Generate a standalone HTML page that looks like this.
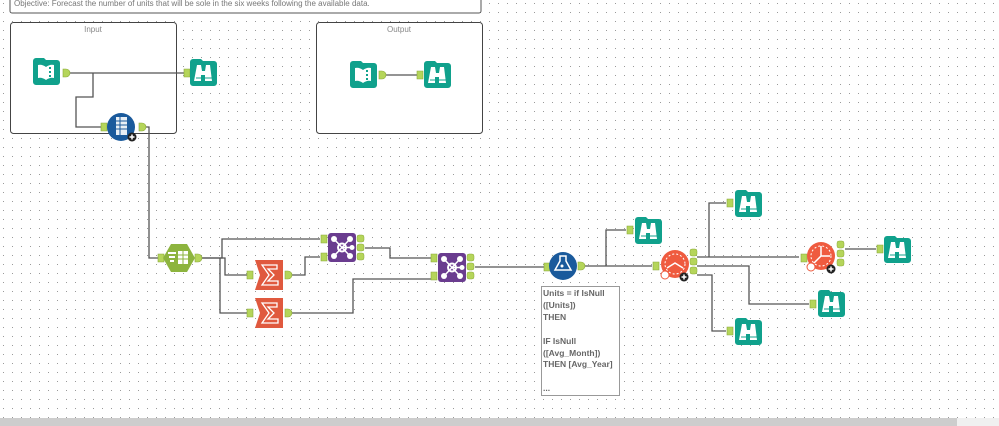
<!DOCTYPE html>
<html><head><meta charset="utf-8"><style>
html,body{margin:0;padding:0;background:#fff;width:999px;height:426px;overflow:hidden}
svg{display:block;font-family:"Liberation Sans",sans-serif}
</style></head><body>
<svg width="999" height="426" viewBox="0 0 999 426" xmlns="http://www.w3.org/2000/svg">
<defs>
<pattern id="dots" x="3" y="3" width="9" height="9" patternUnits="userSpaceOnUse">
<rect x="0" y="0" width="1" height="1" fill="#9a9a9a"/>
</pattern>
<g id="anIn"><path d="M-3,-4 h6 v8 h-6 z" fill="#b5d55a" stroke="#8aa83a" stroke-width="0.6"/></g>
<g id="anOut"><path d="M-3,-4 h3 a4,4 0 0 1 0,8 h-3 z" fill="#b5d55a" stroke="#8aa83a" stroke-width="0.6"/></g>
<g id="browse">
<path d="M0,3 a3,3 0 0 1 3,-3 h8 l2,2 h11 a3,3 0 0 1 3,3 v19 a3,3 0 0 1 -3,3 h-21 a3,3 0 0 1 -3,-3 z" fill="#10a18c"/>
<path d="M7,6 h4 l1,6 h3 l1,-6 h4 l2,16 h-7 v-6 h-4 v6 h-7 z" fill="#fff"/>
<line x1="6" y1="19" x2="13" y2="19" stroke="#10a18c" stroke-width="1"/>
<line x1="15" y1="19" x2="22" y2="19" stroke="#10a18c" stroke-width="1"/>
</g>
<g id="input">
<path d="M0,3 a3,3 0 0 1 3,-3 h8 l2,2 h11 a3,3 0 0 1 3,3 v19 a3,3 0 0 1 -3,3 h-21 a3,3 0 0 1 -3,-3 z" fill="#10a18c"/>
<path d="M5,7 q4,-1 8,2 q4,-3 8,-2 v13 q-4,-1 -8,2 q-4,-3 -8,-2 z" fill="#fff"/>
<rect x="16" y="9" width="2" height="2" fill="#10a18c"/><rect x="16" y="13" width="2" height="2" fill="#10a18c"/><rect x="16" y="17" width="2" height="2" fill="#10a18c"/>
</g>
<g id="join">
<rect x="0" y="0" width="28" height="29" rx="3" fill="#6a3c8f"/>
<circle cx="14" cy="14.5" r="4" fill="none" stroke="#fff" stroke-width="2"/>
<g stroke="#fff" stroke-width="1.5"><line x1="14" y1="14.5" x2="6" y2="6"/><line x1="14" y1="14.5" x2="22" y2="6"/><line x1="14" y1="14.5" x2="6" y2="23"/><line x1="14" y1="14.5" x2="22" y2="23"/><line x1="14" y1="14.5" x2="24" y2="14.5"/></g>
<circle cx="6" cy="6" r="3" fill="#fff"/><circle cx="22" cy="6" r="3" fill="#fff"/><circle cx="6" cy="23" r="3" fill="#fff"/><circle cx="22" cy="23" r="3" fill="#fff"/><circle cx="24" cy="14.5" r="2.5" fill="#fff"/>
</g>
<g id="summ">
<path d="M0,0 h28 v30 h-28 l5,-15 z" fill="#e0593e"/>
<path d="M7,5 h15 v4 h-9 l6,6 l-6,6 h10 v4 h-16 l7,-10 z" fill="none" stroke="#fff" stroke-width="1.3"/>
</g>
<g id="ljr">
<rect x="0" y="-4" width="7" height="7" rx="2" fill="#b5d55a" stroke="#8aa83a" stroke-width="0.5"/>
<rect x="0" y="5" width="7" height="7" rx="2" fill="#b5d55a" stroke="#8aa83a" stroke-width="0.5"/>
<rect x="0" y="14" width="7" height="7" rx="2" fill="#b5d55a" stroke="#8aa83a" stroke-width="0.5"/>
</g>
<g id="plus"><circle r="4.5" fill="#222"/><path d="M-2.5,0 h5 M0,-2.5 v5" stroke="#fff" stroke-width="1.5"/></g>
</defs>
<rect width="999" height="426" fill="#fff"/>
<rect width="999" height="418" fill="url(#dots)"/>

<rect x="10" y="-5" width="471" height="18" rx="2" fill="#fff" stroke="#555" stroke-width="1"/>
<text x="14" y="6" font-size="8" fill="#777">Objective:  Forecast the number of units that will be sole in the six weeks following the available data.</text>

<rect x="10.5" y="22.5" width="166" height="111" rx="3" fill="#fff" stroke="#444"/>
<text x="93" y="32" font-size="8" fill="#888" text-anchor="middle">Input</text>
<rect x="316.5" y="22.5" width="166" height="111" rx="3" fill="#fff" stroke="#444"/>
<text x="399" y="32" font-size="8" fill="#888" text-anchor="middle">Output</text>

<g fill="none" stroke="#555" stroke-width="1.3">
<path d="M69,73 H185"/>
<path d="M93,73 V97 H76 V127 H101"/>
<path d="M146,127 H149 V258 H159"/>
<path d="M384,75 H417"/>
<path d="M198,258 H222 V239 H320"/>
<path d="M198,258 H225 V275 H247"/>
<path d="M220,258 V313 H247"/>
<path d="M290,275 H305 V257 H320"/>
<path d="M290,313 H353 V279 H431"/>
<path d="M365,248 H390 V258 H431"/>
<path d="M475,267 H544"/>
<path d="M584,266 H652"/>
<path d="M606,266 V230 H626"/>
<path d="M697,257 H799"/>
<path d="M709,257 V203 H726"/>
<path d="M697,266 H749 V304 H809"/>
<path d="M697,275 H712 V331 H726"/>
<path d="M845,249 H876"/>
</g>

<use href="#input" x="33" y="58"/>
<use href="#anOut" x="66" y="73"/>
<use href="#anIn" x="187" y="73"/>
<use href="#browse" x="190" y="59"/>

<use href="#anIn" x="104" y="127"/>
<circle cx="121" cy="127" r="14" fill="#1a5a9c"/>
<rect x="116" y="117" width="11" height="18" fill="#fff" opacity="0.9"/>
<g stroke="#1a5a9c" stroke-width="1"><line x1="116" y1="121" x2="127" y2="121"/><line x1="116" y1="125" x2="127" y2="125"/><line x1="116" y1="129" x2="127" y2="129"/><line x1="120" y1="117" x2="120" y2="135"/></g>
<use href="#plus" x="132" y="137"/>
<use href="#anOut" x="142" y="127"/>

<use href="#input" x="350" y="61"/>
<use href="#anOut" x="382" y="75"/>
<use href="#anIn" x="420" y="75"/>
<use href="#browse" x="424" y="61"/>

<use href="#anIn" x="161" y="258"/>
<polygon points="171,244 187,244 195,258 187,272 171,272 163,258" fill="#8db43e"/>
<rect x="168" y="252" width="8" height="2" fill="#fff"/><rect x="169" y="256" width="6" height="2" fill="#fff"/><rect x="170" y="260" width="4" height="2" fill="#fff"/>
<rect x="178" y="251" width="10" height="13" fill="#fff"/>
<g stroke="#8db43e" stroke-width="1"><line x1="178" y1="255" x2="188" y2="255"/><line x1="178" y1="259" x2="188" y2="259"/><line x1="183" y1="251" x2="183" y2="264"/></g>
<use href="#anOut" x="198" y="258"/>

<use href="#anIn" x="250" y="275"/>
<use href="#summ" x="255" y="260"/>
<use href="#anOut" x="288" y="275"/>
<use href="#anIn" x="250" y="313"/>
<use href="#summ" x="255" y="298"/>
<use href="#anOut" x="288" y="313"/>

<use href="#anIn" x="324" y="239"/>
<use href="#anIn" x="324" y="257"/>
<use href="#join" x="328" y="233"/>
<use href="#ljr" x="357" y="239"/>
<use href="#anIn" x="434" y="258"/>
<use href="#anIn" x="434" y="276"/>
<use href="#join" x="438" y="253"/>
<use href="#ljr" x="467" y="258"/>

<use href="#anIn" x="547" y="267"/>
<circle cx="563" cy="266" r="14" fill="#1a5a9c"/>
<path d="M560,256 h6 v5 l5,9 h-16 l5,-9 z" fill="none" stroke="#fff" stroke-width="1.5"/>
<circle cx="562" cy="266" r="1.5" fill="#fff"/>
<use href="#anOut" x="581" y="266"/>

<use href="#anIn" x="630" y="230"/>
<use href="#browse" x="635" y="217"/>

<use href="#anIn" x="656" y="266"/>
<circle cx="675" cy="264" r="14" fill="#ef5b3f"/>
<circle cx="675" cy="264" r="10" fill="none" stroke="#fff" stroke-width="1" stroke-dasharray="2 2"/>
<path d="M667,268 l8,-5 l8,5" fill="none" stroke="#fff" stroke-width="1.5"/>
<circle cx="665" cy="275" r="4" fill="#fff" stroke="#ef5b3f"/>
<use href="#plus" x="684" y="277"/>
<use href="#ljr" x="690" y="257" transform="translate(0,-4)"/>

<use href="#anIn" x="730" y="203"/>
<use href="#browse" x="735" y="190"/>
<use href="#anIn" x="813" y="304"/>
<use href="#browse" x="818" y="290"/>
<use href="#anIn" x="730" y="331"/>
<use href="#browse" x="735" y="318"/>

<use href="#anIn" x="804" y="258"/>
<circle cx="821" cy="256" r="14" fill="#ef5b3f"/>
<circle cx="821" cy="256" r="10" fill="none" stroke="#fff" stroke-width="1" stroke-dasharray="2 2"/>
<path d="M821,246 V256 H830 M821,256 L814,263" fill="none" stroke="#fff" stroke-width="1.5"/>
<circle cx="811" cy="267" r="4" fill="#fff" stroke="#ef5b3f"/>
<use href="#plus" x="831" y="269"/>
<use href="#ljr" x="837" y="249" transform="translate(0,-4)"/>
<use href="#anIn" x="880" y="249"/>
<use href="#browse" x="884" y="236"/>

<rect x="541.5" y="286.5" width="78" height="109" fill="#fff" stroke="#999"/>
<g font-size="8.5" font-weight="bold" fill="#666">
<text x="543" y="296">Units = if IsNull</text>
<text x="543" y="308">([Units])</text>
<text x="543" y="320">THEN</text>
<text x="543" y="344">IF IsNull</text>
<text x="543" y="356">([Avg_Month])</text>
<text x="543" y="367">THEN [Avg_Year]</text>
<text x="543" y="391">...</text>
</g>

<rect x="0" y="418" width="999" height="8" fill="#f0f0f0"/>
<rect x="0" y="418" width="957" height="8" fill="#cdcdcd"/>
</svg>
</body></html>
